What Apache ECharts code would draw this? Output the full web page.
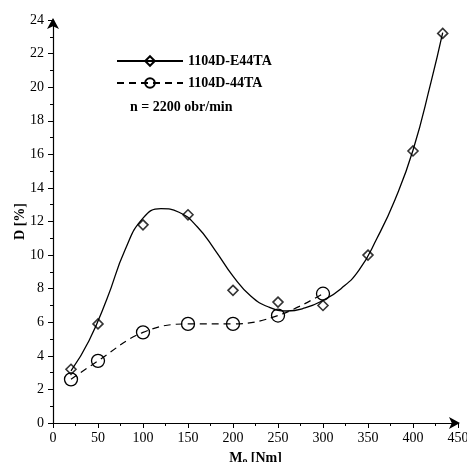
<!DOCTYPE html>
<html>
<head>
<meta charset="utf-8">
<script src="https://cdn.jsdelivr.net/npm/echarts@6/dist/echarts.min.js"></script>
<style>
  html, body { margin: 0; padding: 0; background: #fff; }
  #chart { width: 467px; height: 462px; }
</style>
</head>
<body>
<div id="chart"></div>
<script>
// measured points, 1104D-E44TA (diamonds)
const torqueE44 = [20, 50, 100, 150, 200, 250, 300, 350, 400, 433]
const dE44 = [3.2, 5.9, 11.8, 12.4, 7.9, 7.2, 7.0, 10.0, 16.2, 23.2]
// fitted curve for E44TA
const fitTorque = [20, 40, 60, 80, 100, 120, 140, 160, 180, 200, 220, 240, 260, 280, 300, 320, 340, 360, 380, 400, 420, 433]
const fitD = [3.1, 4.9, 7.4, 10.3, 12.2, 12.77, 12.55, 11.7, 10.3, 8.75, 7.55, 6.9, 6.67, 6.85, 7.3, 8.0, 9.1, 11.0, 13.3, 16.24, 20.3, 23.25]
// measured points, 1104D-44TA (circles)
const torque44 = [20, 50, 100, 150, 200, 250, 300]
const d44 = [2.6, 3.7, 5.4, 5.9, 5.9, 6.4, 7.7]

const seriesNames = ['1104D-E44TA', '1104D-44TA']
const noteText = 'n = 2200 obr/min'

const pairs = (xs, ys) => xs.map((x, i) => [x, ys[i]])
const font = 'Liberation Serif'

const chart = echarts.init(document.getElementById('chart'))
chart.setOption({
  animation: false,
  grid: { left: 53, right: 9, top: 20, bottom: 39, outerBoundsMode: 'none', containLabel: false },
  legend: {
    data: seriesNames,
    orient: 'vertical',
    left: 116,
    top: 54,
    padding: 0,
    itemWidth: 66,
    itemHeight: 12,
    itemGap: 8,
    textStyle: { fontFamily: font, fontWeight: 'bold', fontSize: 14, color: '#000' }
  },
  graphic: [{
    type: 'text',
    left: 130,
    top: 100,
    style: { text: noteText, font: 'bold 14px "Liberation Serif"', fill: '#000' }
  }],
  xAxis: {
    type: 'value',
    min: 0,
    max: 450,
    interval: 50,
    name: '{m|M}{s|o} {m|[Nm]}',
    nameLocation: 'middle',
    nameGap: 28,
    nameMoveOverlap: false,
    nameTextStyle: {
      rich: {
        m: { fontFamily: font, fontWeight: 'bold', fontSize: 14, color: '#000' },
        s: { fontFamily: font, fontWeight: 'bold', fontSize: 10, color: '#000', verticalAlign: 'bottom', padding: [5, 0, 0, 0] }
      }
    },
    axisLine: { lineStyle: { color: '#000', width: 1.2 }, symbol: ['none', 'arrow'], symbolSize: [9, 11], symbolOffset: [0, 2] },
    axisTick: { inside: false, length: 5, lineStyle: { color: '#000' } },
    minorTick: { show: true, splitNumber: 2, length: 3, lineStyle: { color: '#000' } },
    axisLabel: { fontFamily: font, fontSize: 14, color: '#000', margin: 8 },
    splitLine: { show: false }
  },
  yAxis: {
    type: 'value',
    min: 0,
    max: 24,
    interval: 2,
    name: 'D [%]',
    nameLocation: 'middle',
    nameGap: 26,
    nameMoveOverlap: false,
    nameTextStyle: { fontFamily: font, fontWeight: 'bold', fontSize: 14, color: '#000' },
    axisLine: { lineStyle: { color: '#000', width: 1.2 }, symbol: ['none', 'arrow'], symbolSize: [9, 11], symbolOffset: [0, 2] },
    axisTick: { inside: false, length: 5, lineStyle: { color: '#000' } },
    minorTick: { show: true, splitNumber: 2, length: 3, lineStyle: { color: '#000' } },
    axisLabel: { fontFamily: font, fontSize: 14, color: '#000', margin: 9 },
    splitLine: { show: false }
  },
  series: [
    {
      name: seriesNames[0],
      type: 'line',
      data: pairs(fitTorque, fitD),
      smooth: 0.5,
      showSymbol: false,
      symbol: 'diamond',
      symbolSize: 10,
      lineStyle: { color: '#000', width: 1.3 },
      itemStyle: { color: 'transparent', borderColor: '#000', borderWidth: 1.6 },
      z: 2
    },
    {
      name: 'E44TA points',
      type: 'scatter',
      data: pairs(torqueE44, dE44),
      symbol: 'diamond',
      symbolSize: 10,
      itemStyle: { color: 'transparent', borderColor: '#000', borderWidth: 1.6 },
      z: 3
    },
    {
      name: seriesNames[1],
      type: 'line',
      data: pairs(torque44, d44),
      smooth: 0.4,
      symbol: 'circle',
      symbolSize: 13,
      lineStyle: { color: '#000', width: 1.2, type: [7, 5] },
      itemStyle: { color: 'transparent', borderColor: '#000', borderWidth: 1.3 },
      z: 3
    }
  ]
})
</script>
</body>
</html>
